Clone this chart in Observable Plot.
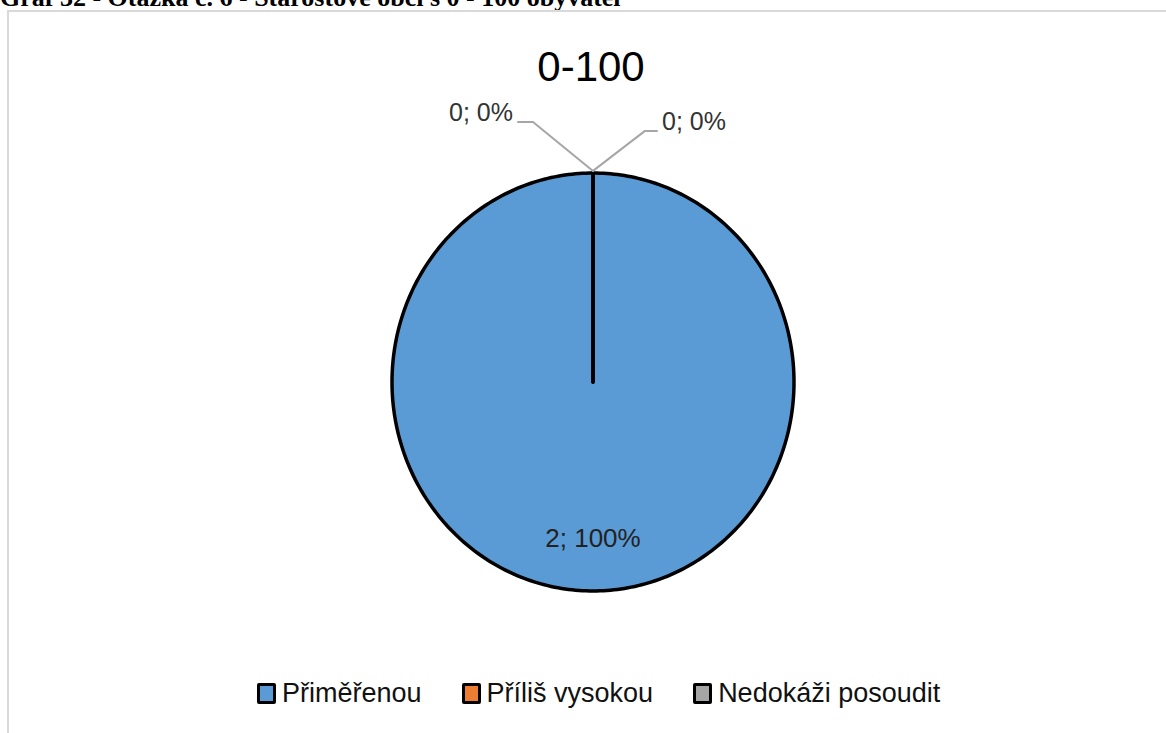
<!DOCTYPE html>
<html>
<head>
<meta charset="utf-8">
<script src="https://cdn.jsdelivr.net/npm/d3@7"></script>
<script src="https://cdn.jsdelivr.net/npm/@observablehq/plot@0.6"></script>
<style>
  html, body { margin: 0; padding: 0; background: #fff; }
  body { width: 1166px; height: 733px; position: relative; overflow: hidden; font-family: "Liberation Sans", Arial, sans-serif; }
  #caption { position: absolute; left: 0; top: -15px; font-family: "Liberation Serif", "Times New Roman", serif; font-weight: bold; font-size: 26px; line-height: 26px; white-space: nowrap; color: #000; }
  #frame { position: absolute; left: 7px; top: 10px; width: 1200px; height: 800px; border-left: 2px solid #d9d9d9; border-top: 2px solid #d9d9d9; box-sizing: border-box; }
  #title { position: absolute; left: 0; width: 1182px; top: 46px; text-align: center; font-size: 42px; line-height: 42px; color: #000; }
  #chart { position: absolute; left: 0; top: 0; }
  #legend { position: absolute; left: 257px; top: 678px; display: flex; align-items: center; font-size: 27px; color: #111; }
  .item { display: flex; align-items: center; margin-right: 40px; }
  .sw { width: 13px; height: 15px; border: 3px solid #000; border-radius: 2px; margin-right: 6px; }
</style>
</head>
<body>
<div id="caption"></div>
<div id="frame"></div>
<div id="chart"></div>
<div id="title"></div>
<div id="legend"></div>
<script>
// ---- data ----
const captionText = "Graf 32 - Otázka č. 6 - Starostové obcí s 0 - 100 obyvatel";
const chartTitle = "0-100";
const categories = ["Přiměřenou", "Příliš vysokou", "Nedokáži posoudit"];
const counts = [2, 0, 0];
const colors = ["#5B9BD5", "#ED7D31", "#A5A5A5"];

// ---- layout (pixels) ----
const leaderLayout = [
  null,                                   // big slice: label inside
  { side: "left",  elbow: [-60, -49], len: 15 },
  { side: "right", elbow: [52, -40],  len: 12 }
];
const X_RANGE = [391.5, 793.5];
const Y_RANGE = [590.5, 172.5];
const pxX = (X_RANGE[1] - X_RANGE[0]) / 2;
const pxY = (Y_RANGE[0] - Y_RANGE[1]) / 2;

document.getElementById("caption").textContent = captionText;
document.getElementById("title").textContent = chartTitle;

const total = d3.sum(counts);
const pct = d3.format(".0%");
const table = categories.map((c, i) => ({cat: c, value: counts[i], label: `${counts[i]}; ${pct(total ? counts[i] / total : 0)}`}));
const arcs = d3.pie().sort(null).value(d => d.value)(table);

// slice outlines (angle from 12 o'clock, clockwise)
const slicePts = [];
arcs.forEach(a => {
  const n = Math.max(1, Math.ceil((a.endAngle - a.startAngle) / (Math.PI / 180)));
  slicePts.push({cat: a.data.cat, x: 0, y: 0});
  for (let k = 0; k <= n; k++) {
    const t = a.startAngle + (a.endAngle - a.startAngle) * k / n;
    slicePts.push({cat: a.data.cat, x: Math.sin(t), y: Math.cos(t)});
  }
  slicePts.push({cat: a.data.cat, x: 0, y: 0});
});

// labels
const insideLabels = [];
const leaderPts = [];
const outLabels = [];
arcs.forEach((a, i) => {
  const mid = (a.startAngle + a.endAngle) / 2;
  const L = leaderLayout[i];
  if (!L) {
    insideLabels.push({x: Math.sin(mid) * 0.75, y: Math.cos(mid) * 0.75, label: a.data.label});
  } else {
    const ax = Math.sin(mid) * 1.01, ay = Math.cos(mid) * 1.01;
    const ex = ax + L.elbow[0] / pxX, ey = ay - L.elbow[1] / pxY;
    const dir = L.side === "left" ? -1 : 1;
    const fx = ex + dir * L.len / pxX;
    leaderPts.push({id: i, x: ax, y: ay}, {id: i, x: ex, y: ey}, {id: i, x: fx, y: ey});
    outLabels.push({side: L.side, x: fx + dir * 5 / pxX, y: ey + 8.5 / pxY, label: a.data.label});
  }
});

const chart = Plot.plot({
  width: 1166,
  height: 733,
  margin: 0,
  style: {background: "transparent", overflow: "visible"},
  x: {domain: [-1, 1], range: X_RANGE, axis: null},
  y: {domain: [-1, 1], range: Y_RANGE, axis: null},
  color: {domain: categories, range: colors},
  marks: [
    Plot.line(slicePts, {x: "x", y: "y", z: "cat", fill: "cat", stroke: "#000", strokeWidth: 3.5, strokeLinejoin: "round", curve: "linear"}),
    Plot.line(leaderPts, {x: "x", y: "y", z: "id", stroke: "#a6a6a6", strokeWidth: 2}),
    Plot.text(insideLabels, {x: "x", y: "y", text: "label", fontSize: 26, fill: "#222", fontFamily: "Liberation Sans, Arial, sans-serif"}),
    Plot.text(outLabels.filter(d => d.side === "left"), {x: "x", y: "y", text: "label", textAnchor: "end", fontSize: 25, fill: "#333", fontFamily: "Liberation Sans, Arial, sans-serif"}),
    Plot.text(outLabels.filter(d => d.side === "right"), {x: "x", y: "y", text: "label", textAnchor: "start", fontSize: 25, fill: "#333", fontFamily: "Liberation Sans, Arial, sans-serif"})
  ]
});
document.getElementById("chart").appendChild(chart);

// legend
const legend = document.getElementById("legend");
categories.forEach((c, i) => {
  const it = document.createElement("div");
  it.className = "item";
  const sw = document.createElement("div");
  sw.className = "sw";
  sw.style.background = colors[i];
  const tx = document.createElement("span");
  tx.textContent = c;
  it.appendChild(sw);
  it.appendChild(tx);
  legend.appendChild(it);
});
</script>
</body>
</html>
